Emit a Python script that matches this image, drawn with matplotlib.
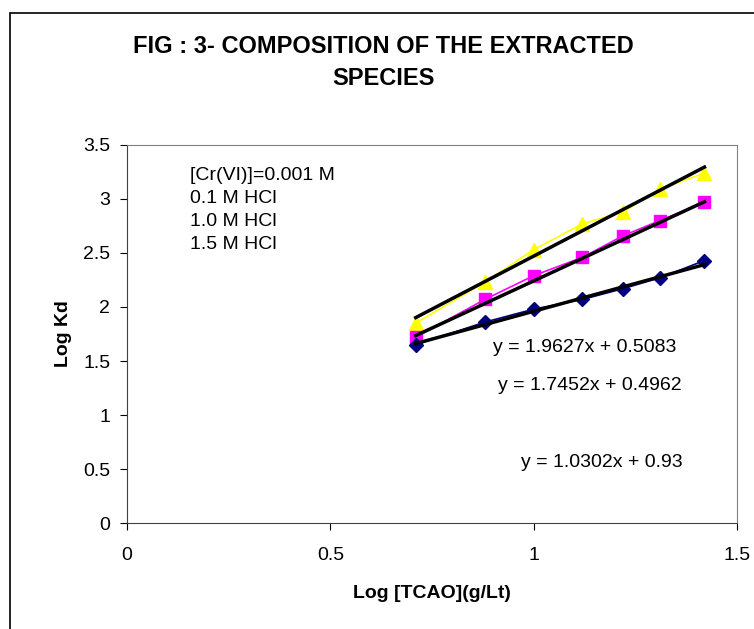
import matplotlib
matplotlib.use("Agg")
import matplotlib.pyplot as plt
from matplotlib.patches import Rectangle

plt.rcParams['font.family'] = ['Liberation Sans', 'DejaVu Sans']

# data
log_tcao = [0.71, 0.88, 1.0, 1.12, 1.22, 1.31, 1.42]
kd_01 = [1.85, 2.23, 2.53, 2.77, 2.88, 3.09, 3.24]   # yellow triangles
kd_10 = [1.72, 2.07, 2.29, 2.46, 2.66, 2.80, 2.97]   # magenta squares
kd_15 = [1.65, 1.86, 1.98, 2.07, 2.17, 2.27, 2.43]   # navy diamonds

# linear trendlines (slope, intercept) as printed on the chart
fit_01 = (1.9627, 0.5083)
fit_10 = (1.7452, 0.4962)
fit_15 = (1.0302, 0.93)

legend_lines = ['[Cr(VI)]=0.001 M', '0.1 M HCl', '1.0 M HCl', '1.5 M HCl']

fig = plt.figure(figsize=(7.54, 6.29), dpi=100)
ax = fig.add_axes([127 / 754, 0.1685, 610 / 754, 0.601])

# outer chart frame (cut off at right / bottom)
fig.patches.append(Rectangle((10 / 754, -0.1), 1.2, 1 - 13 / 629 + 0.1,
                             transform=fig.transFigure, fill=False,
                             edgecolor='black', linewidth=1.2))

ax.plot(log_tcao, kd_01, color='#FFFF00', marker='^', markersize=10, lw=1.2)
ax.plot(log_tcao, kd_10, color='#FF00FF', marker='s', markersize=8.5, lw=1.2)
ax.plot(log_tcao, kd_15, color='#000080', marker='D', markersize=7.5, lw=1.2)

x0, x1 = log_tcao[0], log_tcao[-1]
for m, c in (fit_01, fit_10, fit_15):
    ax.plot([x0, x1], [m * x0 + c, m * x1 + c], color='black', lw=2.5)

ax.set_xlim(0, 1.5)
ax.set_ylim(0, 3.5)
ax.set_xticks([0, 0.5, 1, 1.5])
ax.set_xticklabels(['0', '0.5', '1', '1.5'])
ax.set_yticks([0, 0.5, 1, 1.5, 2, 2.5, 3, 3.5])
ax.set_yticklabels(['0', '0.5', '1', '1.5', '2', '2.5', '3', '3.5'])
ax.tick_params(direction='out', length=5, labelsize=14)
ax.tick_params(axis='x', pad=12)
ax.tick_params(axis='y', pad=7)
for s in ('top', 'right'):
    ax.spines[s].set_color('#808080')
for s in ('left', 'bottom'):
    ax.spines[s].set_color('#404040')

ax.set_xlabel('Log [TCAO](g/Lt)', fontsize=14, fontweight='bold', labelpad=15.5)
ax.set_ylabel('Log Kd', fontsize=14, fontweight='bold', labelpad=8)

fig.text(0.509, 0.9006, 'FIG : 3- COMPOSITION OF THE EXTRACTED\nSPECIES',
         ha='center', va='center', fontsize=17, fontweight='bold',
         linespacing=1.55)

for i, t in enumerate(legend_lines):
    ax.text(0.103, 0.9206 - i * 0.0617, t, transform=ax.transAxes,
            fontsize=14, va='center')

ax.text(0.751, 0.463, 'y = %.4fx + %.4f' % fit_01, transform=ax.transAxes,
        ha='center', va='center', fontsize=14)
ax.text(0.759, 0.365, 'y = %.4fx + %.4f' % fit_10, transform=ax.transAxes,
        ha='center', va='center', fontsize=14)
ax.text(0.779, 0.161, 'y = %.4fx + %.2f' % fit_15, transform=ax.transAxes,
        ha='center', va='center', fontsize=14)

fig.savefig('out.png', dpi=100)
